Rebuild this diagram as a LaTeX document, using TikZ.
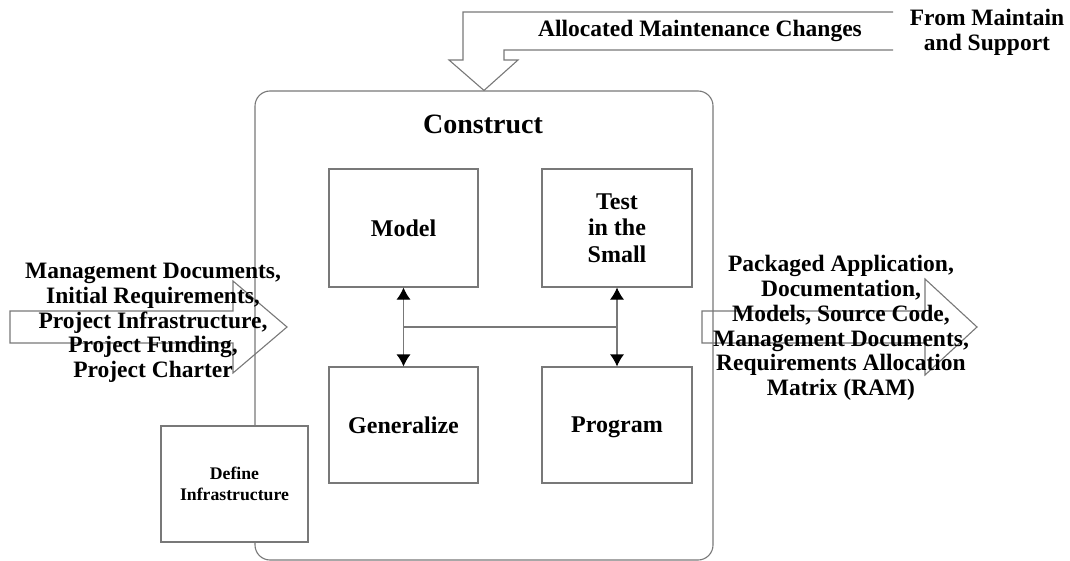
\documentclass[tikz,border=0pt]{standalone}
\usepackage{fontspec}
\setmainfont{Liberation Serif}
\usetikzlibrary{arrows.meta}
\definecolor{linegray}{RGB}{120,120,120}
\tikzset{
  flow/.style={draw=linegray, line width=1.1pt},
  proc/.style={flow, fill=white, minimum width=149pt, minimum height=118pt, align=center,
    font=\fontsize{24}{26.5}\selectfont\bfseries},
  doctext/.style={align=center, inner sep=0pt, font=\fontsize{23.5}{24.8}\selectfont\bfseries},
}
\begin{document}
\begin{tikzpicture}[x=1pt, y=-1pt, >={Latex[length=12pt,width=14pt,color=black]}]
    \useasboundingbox (0,0) rectangle (1070,561);
    % the construct phase
    \node[flow, rounded corners=15pt, minimum width=458pt, minimum height=469pt] (construct) at (484,325.5) {};
    \node[font=\fontsize{28}{30}\selectfont\bfseries] (title) at (483,124) {Construct};

    % inputs, outputs and the feed from maintenance
    \draw[flow] (10,311)--(233,311)--(233,281)--(287,327)--(233,373)--(233,343)--(10,343)--cycle;
    \draw[flow] (702,311)--(925,311)--(925,279)--(977,327)--(925,375)--(925,343)--(702,343)--cycle;
    \draw[flow] (893,12)--(463,12)--(463,60)--(449,60)--(construct.north)--(518,60)--(504,60)--(504,50)--(893,50);
    \node[doctext] (inputs) at (153,323) {Management Documents,\\Initial Requirements,\\Project Infrastructure,\\Project Funding,\\Project Charter};
    \node[doctext] (outputs) at (841,328) {Packaged Application,\\Documentation,\\Models, Source Code,\\Management Documents,\\Requirements Allocation\\Matrix (RAM)};
    \node[doctext] (changes) at (700,31) {Allocated Maintenance Changes};
    \node[doctext] (source) at (987,32) {From Maintain\\and Support};

    % activities
    \node[proc] (model) at (403.5,228) {Model};
    \node[proc, minimum width=150pt] (test) at (617,228) {Test\\in the\\Small};
    \node[proc, minimum height=116pt] (gen) at (403.5,425) {Generalize};
    \node[proc, minimum width=150pt, minimum height=116pt, text depth=0pt] (program) at (617,425) {Program};
    \node[proc, minimum width=147pt, minimum height=116pt, font=\fontsize{17.7}{21}\selectfont\bfseries] (infra) at (234.5,484) {Define\\Infrastructure};

    \draw[flow, <->] (model.south) -- (gen.north) coordinate[midway] (m1);
    \draw[flow, <->] (test.south) -- (program.north) coordinate[midway] (m2);
    \draw[flow] (m1) -- (m2);
\end{tikzpicture}
\end{document}
